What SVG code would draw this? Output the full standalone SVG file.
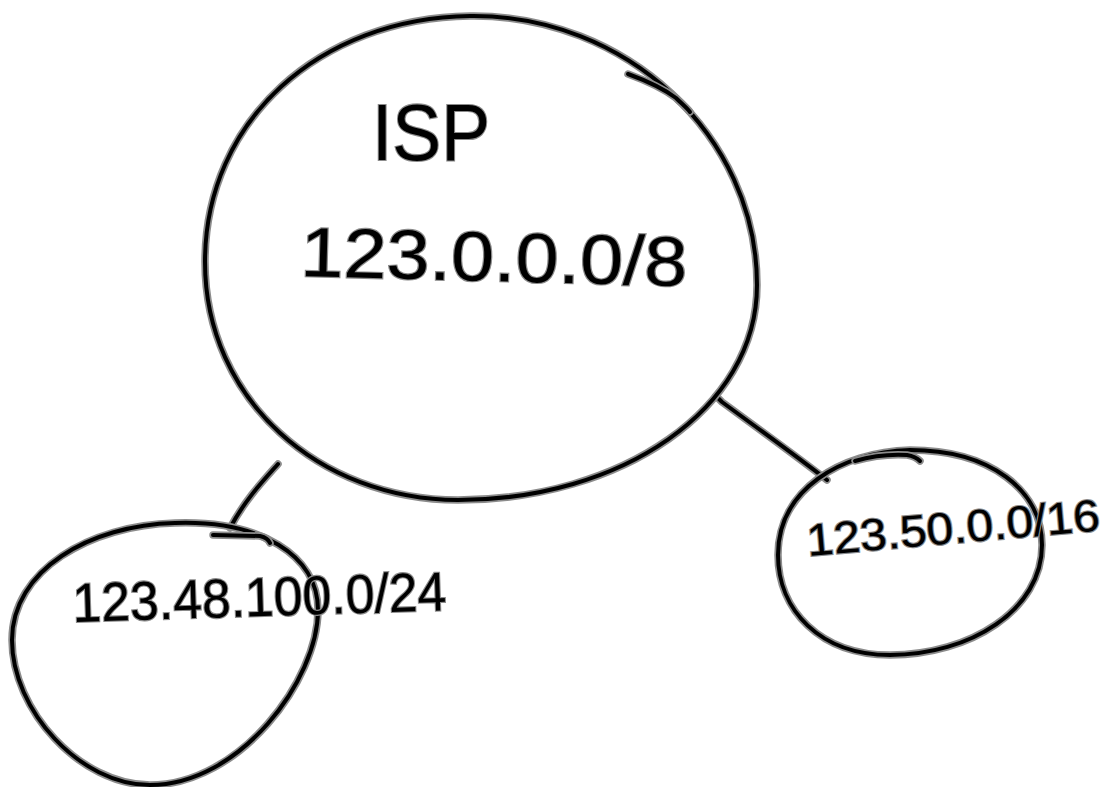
<svg xmlns="http://www.w3.org/2000/svg" xmlns:xlink="http://www.w3.org/1999/xlink" width="1112" height="787" viewBox="0 0 1112 787">
<style>
.h{fill:none;stroke:#8c8c8c;stroke-width:7.5;stroke-linecap:round;stroke-linejoin:round}
.k{fill:none;stroke:#000;stroke-width:4;stroke-linecap:round;stroke-linejoin:round}
.t{font-family:"Liberation Sans",Arial,sans-serif;fill:#000;stroke:#8c8c8c;stroke-width:2.2;paint-order:stroke}
</style>
<defs>
<path id="pIsp" d="M 470 16 C 625 14 757 135 757 285 C 757 410 620 500 458 500 C 320 500 205 400 205 262 C 205 120 320 18 470 16 Z"/>
<path id="pIspTick" d="M 628 74 C 650 82 668 92 676 98 C 682 104 687 108 690 112"/>
<path id="pA" d="M 175 523 C 260 520 318 555 318 610 C 318 680 240 785 150 785 C 80 785 12 710 12 640 C 12 570 90 525 175 523 Z"/>
<path id="pATick" d="M 213 535 L 260 536 Q 268 538 270 543"/>
<path id="pB" d="M 910 450 C 990 450 1042 490 1042 545 C 1042 610 970 655 890 655 C 820 655 778 610 778 555 C 778 490 840 452 910 450 Z"/>
<path id="pBTick" d="M 855 461 C 872 456 890 454 907 455 C 913 456 917 458 920 461"/>
<path id="cA" d="M 278 464 C 262 482 245 500 230 528"/>
<path id="cB" d="M 716 396 L 722 402 C 760 430 795 455 827 480"/>
</defs>
<g id="connectors">
<use xlink:href="#cA" class="h"/><use xlink:href="#cA" class="k"/>
<use xlink:href="#cB" class="h"/><use xlink:href="#cB" class="k"/>
</g>
<g id="isp">
<use xlink:href="#pIsp" class="h"/><use xlink:href="#pIsp" class="k"/>
<use xlink:href="#pIspTick" class="h"/><use xlink:href="#pIspTick" class="k"/>
<text class="t" x="372" y="160" font-size="80" textLength="118" lengthAdjust="spacingAndGlyphs">ISP</text>
<text class="t" x="300" y="276" font-size="70" textLength="387" lengthAdjust="spacingAndGlyphs" transform="rotate(1.5 300 276)">123.0.0.0/8</text>
</g>
<g id="net24">
<use xlink:href="#pA" class="h"/><use xlink:href="#pA" class="k"/>
<use xlink:href="#pATick" class="h"/><use xlink:href="#pATick" class="k"/>
<text class="t" x="73" y="622" font-size="55" textLength="374" lengthAdjust="spacingAndGlyphs" transform="rotate(-1.8 73 622)">123.48.100.0/24</text>
</g>
<g id="net16">
<use xlink:href="#pB" class="h"/><use xlink:href="#pB" class="k"/>
<use xlink:href="#pBTick" class="h"/><use xlink:href="#pBTick" class="k"/>
<text class="t" x="808" y="556" font-size="45" textLength="294" lengthAdjust="spacingAndGlyphs" transform="rotate(-5 808 556)">123.50.0.0/16</text>
</g>
</svg>
